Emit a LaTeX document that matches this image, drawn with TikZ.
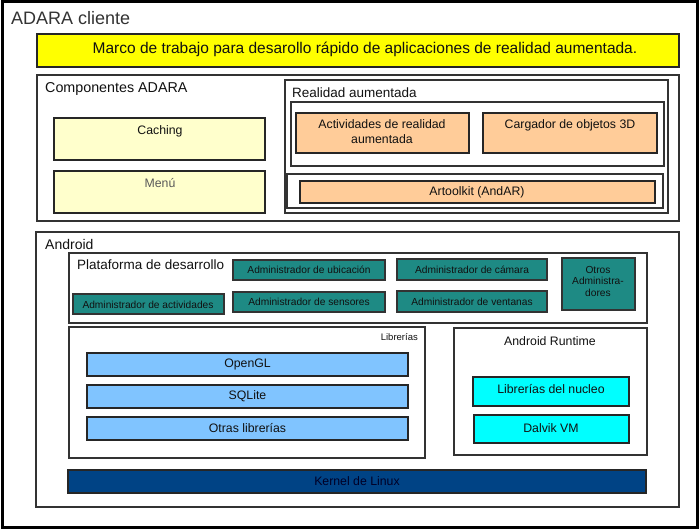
\documentclass[tikz,border=0pt]{standalone}
\usepackage{fontspec}
\setmainfont{Liberation Sans}
\usetikzlibrary{fit}
\definecolor{ybar}{HTML}{FFFF00}
\definecolor{lyel}{HTML}{FFFFCC}
\definecolor{peach}{HTML}{FFCC99}
\definecolor{tealc}{HTML}{1E8A84}
\definecolor{lblue}{HTML}{80C4FF}
\definecolor{cyanc}{HTML}{00FFFF}
\definecolor{kern}{HTML}{004385}
\definecolor{edge}{HTML}{333333}
\definecolor{txtc}{HTML}{111111}
\begin{document}
\begin{tikzpicture}[x=1pt,y=-1pt,
  bx/.style={draw=edge, line width=1.2pt, inner sep=0pt, outer sep=0pt},
  cbx/.style={bx, line width=1.4pt, draw=black!85},
  tbx/.style={bx, fill=tealc, line width=1.5pt, draw=black!80},
  fs/.style={font=\fontsize{#1}{#1}\selectfont, text=txtc, inner sep=0pt},
  ttl/.style={fs=13.5, anchor=west},
  mtxt/.style={fs=12.3},
  ttxt/.style={fs=10, align=center, font=\fontsize{10.2}{11.5}\selectfont}
]
\useasboundingbox (0,0) rectangle (699,529);
\fill[white] (0,0) rectangle (699,529);
% outer frame
\node[draw=black, line width=3pt, inner sep=0pt, fit={(2,2) (697,527)}] (frame) {};
\node[fs=18, anchor=west, text=black!80] (title) at (11,18) {ADARA cliente};
% yellow bar
\node[cbx, fill=ybar, fit={(37,34) (679,67)}] (marco) {};
\node[fs=15.5] (marcot) at (365,49) {Marco de trabajo para desarollo rápido de aplicaciones de realidad aumentada.};
% Componentes ADARA
\node[bx, fit={(37,75) (679,221)}] (comp) {};
\node[ttl, fs=14.3] (compt) at (45,89) {Componentes ADARA};
\node[cbx, fill=lyel, fit={(54,118) (265,160)}] (caching) {};
\node[mtxt] (cachingt) at (160,131) {Caching};
\node[cbx, fill=lyel, fit={(54,171) (265,213)}] (menu) {};
\node[mtxt, text=black!65] (menut) at (160,183) {Menú};
% Realidad aumentada
\node[bx, fit={(285,80) (668,213)}] (ra) {};
\node[ttl] (rat) at (292,93) {Realidad aumentada};
\node[bx, fit={(291,102) (664,166)}] (raone) {};
\node[cbx, fill=peach, fit={(296,113) (469,153)}] (act) {};
\node[mtxt, align=center, font=\fontsize{12.3}{15}\selectfont] (actt) at (382,132) {Actividades de realidad\\aumentada};
\node[cbx, fill=peach, fit={(483,113) (657,153)}] (carg) {};
\node[mtxt] (cargt) at (570,125) {Cargador de objetos 3D};
\node[bx, fit={(287,174) (663,208)}] (ratwo) {};
\node[cbx, fill=peach, fit={(300,181) (655,203)}] (art) {};
\node[mtxt] (artt) at (477,192) {Artoolkit (AndAR)};
% Android
\node[bx, fit={(36,232) (679,507)}] (android) {};
\node[ttl, fs=14] (androidt) at (45,244) {Android};
\node[bx, fit={(69,253) (647,323)}] (plat) {};
\node[ttl] (platt) at (77,265) {Plataforma de desarrollo};
\node[tbx, fit={(233,260) (385,280)}] (ubic) {};
\node[ttxt] (ubict) at (ubic.center) {Administrador de ubicación};
\node[tbx, fit={(397,259) (547,280)}] (cam) {};
\node[ttxt] (camt) at (cam.center) {Administrador de cámara};
\node[tbx, fit={(562,258) (635,310)}] (otros) {};
\node[ttxt] (otrost) at (598,281) {Otros\\Administra-\\dores};
\node[tbx, fit={(73,294) (224,314)}] (activ) {};
\node[ttxt] (activt) at (148,305) {Administrador de actividades};
\node[tbx, fit={(233,292) (385,312)}] (sens) {};
\node[ttxt] (senst) at (sens.center) {Administrador de sensores};
\node[tbx, fit={(397,291) (547,312)}] (vent) {};
\node[ttxt] (ventt) at (vent.center) {Administrador de ventanas};
% Librerias
\node[bx, fit={(69,327) (425,458)}] (lib) {};
\node[fs=9.5, anchor=east] (libt) at (418,337) {Librerías};
\node[cbx, fill=lblue, fit={(87,353) (408,376)}] (opengl) {};
\node[mtxt] (openglt) at (opengl.center) {OpenGL};
\node[cbx, fill=lblue, fit={(87,385) (408,408)}] (sqlite) {};
\node[mtxt] (sqlitet) at (sqlite.center) {SQLite};
\node[cbx, fill=lblue, fit={(87,417) (408,440)}] (otras) {};
\node[mtxt] (otrast) at (otras.center) {Otras librerías};
% Android Runtime
\node[bx, fit={(454,328) (647,455)}] (rt) {};
\node[mtxt] (rtt) at (550,341) {Android Runtime};
\node[cbx, fill=cyanc, fit={(473,377) (629,406)}] (nucleo) {};
\node[mtxt] (nucleot) at (551,389) {Librerías del nucleo};
\node[cbx, fill=cyanc, fit={(474,415) (629,443)}] (dalvik) {};
\node[mtxt] (dalvikt) at (551,428) {Dalvik VM};
% Kernel
\node[cbx, fill=kern, fit={(68,470) (646,493)}] (kernel) {};
\node[mtxt, text=black!85!blue] (kernelt) at (kernel.center) {Kernel de Linux};
\end{tikzpicture}
\end{document}
